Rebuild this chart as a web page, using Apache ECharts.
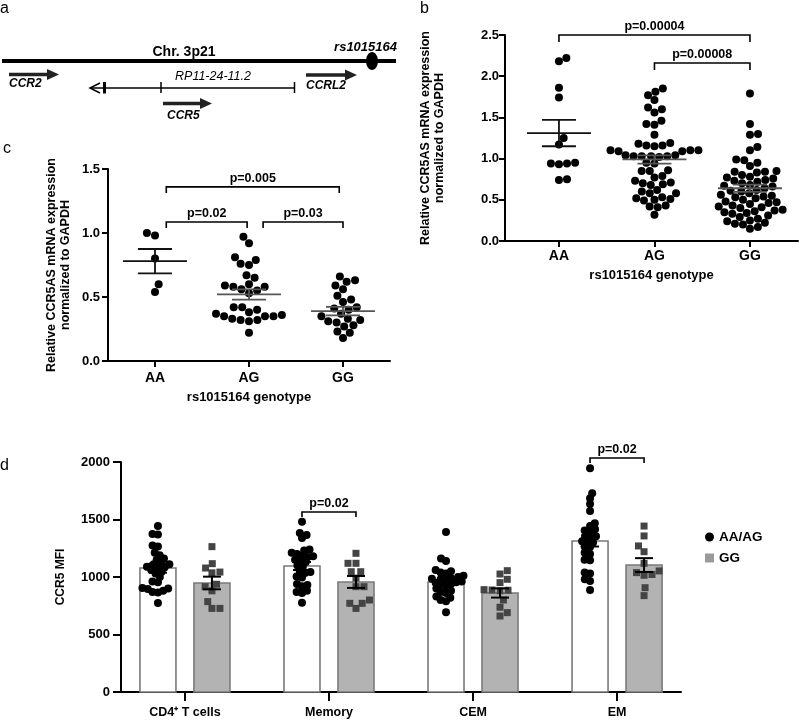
<!DOCTYPE html>
<html><head><meta charset="utf-8">
<script src="https://cdn.jsdelivr.net/npm/echarts@6/dist/echarts.min.js"></script>
<style>html,body{margin:0;padding:0;background:#fff}#c{width:800px;height:720px}</style>
</head><body><div id="c"></div>
<script>
// ================= DATA =================
const genotypes = ['AA', 'AG', 'GG'];
// panel b
const bAA = [2.22, 2.18, 1.86, 1.74, 1.25, 1.17, 0.95, 0.94, 0.93, 0.94, 0.74, 0.75];
const bAG = [1.85, 1.81, 1.77, 1.71, 1.62, 1.60, 1.56, 1.46, 1.42, 1.41, 1.29, 1.19, 1.18, 1.16, 1.16, 1.15,
  1.10, 1.10, 1.09, 1.10, 1.09, 1.04, 1.03, 1.03, 1.02, 1.03, 1.03, 1.04, 0.95, 0.94, 0.86, 0.85, 0.85,
  0.79, 0.77, 0.73, 0.71, 0.70, 0.69, 0.68, 0.62, 0.60, 0.58, 0.58, 0.53, 0.52, 0.51, 0.50, 0.49,
  0.43, 0.42, 0.41, 0.32];
const bGG = [1.79, 1.42, 1.30, 1.29, 1.14, 1.10, 0.99, 0.98, 0.95, 0.91, 0.85, 0.84, 0.84, 0.83, 0.80,
  0.78, 0.77, 0.76, 0.74, 0.73, 0.72, 0.70, 0.68, 0.67, 0.66, 0.64, 0.62, 0.61, 0.60, 0.58,
  0.56, 0.55, 0.54, 0.53, 0.52, 0.50, 0.48, 0.47, 0.46, 0.45, 0.43, 0.42, 0.41, 0.40, 0.38,
  0.37, 0.36, 0.35, 0.34, 0.33, 0.31, 0.29, 0.27, 0.25, 0.24, 0.22, 0.21, 0.20, 0.17, 0.15];
const bMean = [1.31, 0.99, 0.64];
const bSem = [0.16, 0.05, 0.045];
const bPvals = ['p=0.00004', 'p=0.00008'];
// panel c
const cAA = [1.00, 0.98, 0.80, 0.60, 0.54];
const cAG = [0.97, 0.92, 0.81, 0.79, 0.76, 0.75, 0.67, 0.65, 0.60, 0.59, 0.58, 0.58, 0.56, 0.55, 0.53,
  0.42, 0.42, 0.40, 0.38, 0.37, 0.36, 0.35, 0.35, 0.35, 0.33, 0.32, 0.32, 0.31, 0.22];
const cGG = [0.66, 0.63, 0.62, 0.59, 0.56, 0.51, 0.48, 0.46, 0.42, 0.41, 0.40, 0.37, 0.35, 0.33, 0.32,
  0.31, 0.30, 0.28, 0.27, 0.23, 0.22, 0.18];
const cMean = [0.78, 0.52, 0.39];
const cSem = [0.095, 0.04, 0.033];
const cPvals = ['p=0.005', 'p=0.02', 'p=0.03'];
// panel d
const cellTypes = ['CD4\u207A T cells', 'Memory', 'CEM', 'EM'];
const dAA_CD4 = [1443, 1375, 1370, 1275, 1265, 1210, 1190, 1160, 1150, 1120, 1110, 1110, 1090, 1080, 1085, 1060,
  1045, 1030, 1000, 960, 955, 905, 900, 895, 880, 870, 865, 775];
const dAA_Mem = [1481, 1383, 1365, 1339, 1240, 1230, 1210, 1200, 1185, 1180, 1175, 1150, 1140, 1130, 1100, 1090,
  1050, 1043, 1035, 1005, 995, 940, 930, 920, 880, 870, 860, 777];
const dAA_CEM = [1391, 1160, 1140, 1060, 1050, 1040, 1030, 1010, 1000, 990, 985, 980, 970, 960, 955, 950,
  940, 930, 920, 900, 880, 870, 860, 830, 820, 800, 790, 693];
const dAA_EM = [1945, 1728, 1684, 1635, 1574, 1467, 1443, 1415, 1405, 1395, 1355, 1350, 1345, 1310, 1305, 1300,
  1265, 1260, 1210, 1200, 1150, 1145, 1040, 1030, 980, 965, 887];
const dGG_CD4 = [1264, 1116, 1078, 1043, 1036, 937, 916, 880, 786, 727, 727];
const dGG_Mem = [1206, 1119, 1119, 1046, 1046, 990, 916, 916, 800, 771, 771, 727];
const dGG_CEM = [1055, 1026, 980, 951, 890, 887, 885, 880, 800, 737, 690, 661];
const dGG_EM = [1443, 1357, 1270, 1220, 1119, 1053, 1038, 1022, 1015, 907, 838];
const dMeanAAAG = [1078, 1096, 957, 1313];
const dSemAAAG = [40, 35, 25, 48];
const dMeanGG = [948, 957, 861, 1104];
const dSemGG = [55, 52, 40, 60];
const dPvals = ['p=0.02', 'p=0.02'];

// ================= LAYOUT =================
const FF = '"Liberation Sans", Arial, sans-serif';
const gB = {left: 505, top: 35, width: 293, height: 206, xmin: -0.565, xmax: 2.503, ymax: 2.5};
const gC = {left: 108, top: 169, width: 282, height: 192, xmin: -0.5, xmax: 2.5, ymax: 1.5};
const gD = {left: 121, top: 462, width: 560, height: 230, xmin: -0.444, xmax: 3.444, ymax: 2000};
function pxX(g) { return g.width / (g.xmax - g.xmin); }
function pxY(g) { return g.height / g.ymax; }

// beeswarm offsets (px) computed from values – deterministic, no randomness
function swarm(vals, g, D) {
  const py = pxY(g);
  const ys = vals.map(v => -v * py);
  const order = ys.map((y, i) => i).sort((a, b) => ys[b] - ys[a]);
  const placed = [], out = new Array(vals.length);
  let flip = 1;
  order.forEach(i => {
    const y = ys[i];
    const near = placed.filter(p => Math.abs(p.y - y) < D);
    const cands = [0];
    near.forEach(p => { const dx = Math.sqrt(D * D - (p.y - y) * (p.y - y)); cands.push(p.x + dx, p.x - dx); });
    cands.sort((a, b) => (Math.abs(a) - Math.abs(b)) || (flip * (a - b)));
    const x = cands.find(c => near.every(p => (p.x - c) * (p.x - c) + (p.y - y) * (p.y - y) >= D * D - 1e-6));
    flip = -flip;
    placed.push({x, y}); out[i] = x;
  });
  return out;
}
function swarmData(groups, g, D, groupOffsetPx) {
  const res = [];
  groups.forEach((vals, ci) => {
    const off = swarm(vals, g, D);
    vals.forEach((v, k) => res.push([ci + (off[k] + (groupOffsetPx || 0)) / pxX(g), v]));
  });
  return res;
}

const axisLineStyle = {color: '#000', width: 2};
function xAxisCfg(idx, g, names, tickLen, labelSize, labelMargin, nameTxt, nameGap) {
  const vals = names.map((n, i) => i);
  return {
    gridIndex: idx, type: 'value', min: g.xmin, max: g.xmax,
    axisLine: {show: true, onZero: false, lineStyle: axisLineStyle},
    axisTick: {show: true, customValues: vals, length: tickLen, lineStyle: axisLineStyle},
    axisLabel: {customValues: vals, formatter: v => names[Math.round(v)], color: '#000', fontFamily: FF,
      fontWeight: 'bold', fontSize: labelSize, margin: labelMargin},
    splitLine: {show: false},
    name: nameTxt || '', nameLocation: 'middle', nameGap: nameGap || 0,
    nameTextStyle: {color: '#000', fontFamily: FF, fontWeight: 'bold', fontSize: 13}
  };
}
function yAxisCfg(idx, g, interval, fmt, tickLen, labelSize, labelMargin, nameTxt, nameGap, nameSize) {
  return {
    gridIndex: idx, type: 'value', min: 0, max: g.ymax, interval: interval,
    axisLine: {show: true, onZero: false, lineStyle: axisLineStyle},
    axisTick: {show: true, length: tickLen, lineStyle: axisLineStyle},
    axisLabel: {formatter: fmt, color: '#000', fontFamily: FF, fontWeight: 'bold', fontSize: labelSize, margin: labelMargin},
    splitLine: {show: false},
    name: nameTxt, nameLocation: 'middle', nameGap: nameGap,
    nameTextStyle: {color: '#000', fontFamily: FF, fontWeight: 'bold', fontSize: nameSize, lineHeight: 14}
  };
}

function meanSemRender(halfMean, halfCap) {
  return function (params, api) {
    const x = api.value(0), m = api.value(1), s = api.value(2);
    const pm = api.coord([x, m]), ph = api.coord([x, m + s]), pl = api.coord([x, m - s]);
    const col = params.dataIndex === 0 ? '#111' : '#555';
    const st = {stroke: col, lineWidth: 1.8};
    return {type: 'group', children: [
      {type: 'line', shape: {x1: pm[0] - halfMean, y1: pm[1], x2: pm[0] + halfMean, y2: pm[1]}, style: st},
      {type: 'line', shape: {x1: pm[0], y1: ph[1], x2: pm[0], y2: pl[1]}, style: st},
      {type: 'line', shape: {x1: pm[0] - halfCap, y1: ph[1], x2: pm[0] + halfCap, y2: ph[1]}, style: st},
      {type: 'line', shape: {x1: pm[0] - halfCap, y1: pl[1], x2: pm[0] + halfCap, y2: pl[1]}, style: st}
    ]};
  };
}
function errRender(offPx, halfCap) {
  return function (params, api) {
    const x = api.value(0), m = api.value(1), s = api.value(2);
    const ph = api.coord([x, m + s]), pl = api.coord([x, m - s]);
    const cx = ph[0] + offPx;
    const st = {stroke: '#000', lineWidth: 2};
    return {type: 'group', children: [
      {type: 'line', shape: {x1: cx, y1: ph[1], x2: cx, y2: pl[1]}, style: st},
      {type: 'line', shape: {x1: cx - halfCap, y1: ph[1], x2: cx + halfCap, y2: ph[1]}, style: st},
      {type: 'line', shape: {x1: cx - halfCap, y1: pl[1], x2: cx + halfCap, y2: pl[1]}, style: st}
    ]};
  };
}
function barRender(offPx, w, fill) {
  return function (params, api) {
    const x = api.value(0), m = api.value(1);
    const p0 = api.coord([x, 0]), p1 = api.coord([x, m]);
    return {type: 'rect', shape: {x: p0[0] + offPx - w / 2, y: p1[1], width: w, height: p0[1] - p1[1]},
      style: {fill: fill, stroke: '#7a7a7a', lineWidth: 1.6}};
  };
}
function bracketRender(labels, drop, fs) {
  return function (params, api) {
    const x1 = api.value(0), x2 = api.value(1), y = api.value(2);
    const p1 = api.coord([x1, y]), p2 = api.coord([x2, y]);
    return {type: 'group', children: [
      {type: 'polyline', shape: {points: [[p1[0], p1[1] + drop], [p1[0], p1[1]], [p2[0], p2[1]], [p2[0], p2[1] + drop]]},
        style: {stroke: '#000', lineWidth: 1.6, fill: null}},
      {type: 'text', x: (p1[0] + p2[0]) / 2, y: p1[1] - 2,
        style: {text: labels[params.dataIndex], fill: '#000', font: 'bold ' + fs + 'px ' + FF, align: 'center', verticalAlign: 'bottom'}}
    ]};
  };
}

// annotation anchors (data coordinates)
const bBrackets = [[0, 2, 2.5], [1, 2, 2.16]];
const cBrackets = [[0.12, 1.96, 1.36], [0.12, 0.98, 1.086], [1.15, 2.0, 1.086]];
const dGroupOff = 27 / pxX(gD);
const dBrackets = [[1 - dGroupOff, 1 + dGroupOff, 1565], [3 - dGroupOff, 3 + dGroupOff, 2035]];

const ital = 'italic bold 12px ' + FF;
const graphics = [
  {type: 'text', x: 0, y: 9, style: {text: 'a', font: '16px ' + FF, fill: '#000', verticalAlign: 'middle'}},
  {type: 'text', x: 420, y: 9, style: {text: 'b', font: '16px ' + FF, fill: '#000', verticalAlign: 'middle'}},
  {type: 'text', x: 3, y: 149, style: {text: 'c', font: '16px ' + FF, fill: '#000', verticalAlign: 'middle'}},
  {type: 'text', x: 0, y: 466, style: {text: 'd', font: '16px ' + FF, fill: '#000', verticalAlign: 'middle'}},
  // panel a schematic
  {type: 'rect', shape: {x: 2, y: 59, width: 394, height: 4}, style: {fill: '#000'}},
  {type: 'ellipse', shape: {cx: 372, cy: 61, rx: 6, ry: 9}, style: {fill: '#000'}},
  {type: 'text', x: 184, y: 52, style: {text: 'Chr. 3p21', font: 'bold 14px ' + FF, fill: '#000', align: 'center', verticalAlign: 'middle'}},
  {type: 'text', x: 397, y: 47, style: {text: 'rs1015164', font: 'italic bold 13px ' + FF, fill: '#000', align: 'right', verticalAlign: 'middle'}},
  // CCR2
  {type: 'rect', shape: {x: 9, y: 72.8, width: 39, height: 3.4}, style: {fill: '#222'}},
  {type: 'polygon', shape: {points: [[47, 69], [59, 74.5], [47, 80]]}, style: {fill: '#222'}},
  {type: 'text', x: 9, y: 84, style: {text: 'CCR2', font: ital, fill: '#000', verticalAlign: 'middle'}},
  // CCRL2
  {type: 'rect', shape: {x: 306, y: 73.3, width: 40, height: 3.4}, style: {fill: '#222'}},
  {type: 'polygon', shape: {points: [[345, 69.5], [357, 75], [345, 80.5]]}, style: {fill: '#222'}},
  {type: 'text', x: 306, y: 86, style: {text: 'CCRL2', font: ital, fill: '#000', verticalAlign: 'middle'}},
  // CCR5
  {type: 'rect', shape: {x: 163, y: 101.8, width: 38, height: 3.4}, style: {fill: '#222'}},
  {type: 'polygon', shape: {points: [[200, 98], [212, 103.5], [200, 109]]}, style: {fill: '#222'}},
  {type: 'text', x: 167, y: 116, style: {text: 'CCR5', font: ital, fill: '#000', verticalAlign: 'middle'}},
  // RP11-24-11.2 transcript
  {type: 'line', shape: {x1: 90, y1: 88, x2: 295, y2: 88}, style: {stroke: '#000', lineWidth: 1.5}},
  {type: 'polyline', shape: {points: [[100, 83], [90, 88], [100, 93]]}, style: {stroke: '#000', lineWidth: 1.5, fill: null}},
  {type: 'rect', shape: {x: 103, y: 82, width: 3, height: 11.5}, style: {fill: '#000'}},
  {type: 'line', shape: {x1: 161, y1: 82, x2: 161, y2: 93}, style: {stroke: '#000', lineWidth: 1.5}},
  {type: 'line', shape: {x1: 294.5, y1: 82, x2: 294.5, y2: 93}, style: {stroke: '#000', lineWidth: 1.5}},
  {type: 'text', x: 213, y: 77, style: {text: 'RP11-24-11.2', font: 'italic 12.5px ' + FF, fill: '#000', align: 'center', verticalAlign: 'middle'}}
];

const option = {
  animation: false,
  backgroundColor: '#fff',
  textStyle: {fontFamily: FF},
  grid: [
    {left: gB.left, top: gB.top, width: gB.width, height: gB.height},
    {left: gC.left, top: gC.top, width: gC.width, height: gC.height},
    {left: gD.left, top: gD.top, width: gD.width, height: gD.height}
  ],
  xAxis: [
    xAxisCfg(0, gB, genotypes, 6, 14, 8, 'rs1015164 genotype', 28),
    xAxisCfg(1, gC, genotypes, 6, 14, 10, 'rs1015164 genotype', 30),
    xAxisCfg(2, gD, cellTypes, 9, 12.5, 14, '', 0)
  ],
  yAxis: [
    yAxisCfg(0, gB, 0.5, v => v.toFixed(1), 6, 13, 6, 'Relative CCR5AS mRNA expression\nnormalized to GAPDH', 58, 12.5),
    yAxisCfg(1, gC, 0.5, v => v.toFixed(1), 6, 13, 8, 'Relative CCR5AS mRNA expression\nnormalized to GAPDH', 35, 12.5),
    yAxisCfg(2, gD, 500, v => String(v), 8, 13, 11, 'CCR5 MFI', 53, 12)
  ],
  legend: {
    orient: 'vertical', left: 705, top: 530, padding: 0, itemWidth: 9, itemHeight: 9, itemGap: 7,
    selectedMode: false,
    textStyle: {fontFamily: FF, fontWeight: 'bold', fontSize: 13.5, color: '#000'},
    data: [
      {name: 'AA/AG', icon: 'circle', itemStyle: {color: '#000', opacity: 1}},
      {name: 'GG', icon: 'rect', itemStyle: {color: '#9a9a9a', opacity: 1}}
    ]
  },
  graphic: graphics,
  series: [
    // panel b
    {name: 'b points', type: 'scatter', xAxisIndex: 0, yAxisIndex: 0, symbol: 'circle', symbolSize: 8,
      itemStyle: {color: '#000', opacity: 1}, z: 2, data: swarmData([bAA, bAG, bGG], gB, 8.1)},
    {name: 'b mean', type: 'custom', xAxisIndex: 0, yAxisIndex: 0, z: 3,
      renderItem: meanSemRender(32, 17), data: bMean.map((m, i) => [i, m, bSem[i]])},
    {name: 'b brackets', type: 'custom', xAxisIndex: 0, yAxisIndex: 0, z: 3, encode: {x: [0, 1], y: 2},
      renderItem: bracketRender(bPvals, 7, 12.5), data: bBrackets},
    // panel c
    {name: 'c points', type: 'scatter', xAxisIndex: 1, yAxisIndex: 1, symbol: 'circle', symbolSize: 8,
      itemStyle: {color: '#000', opacity: 1}, z: 2, data: swarmData([cAA, cAG, cGG], gC, 8.5)},
    {name: 'c mean', type: 'custom', xAxisIndex: 1, yAxisIndex: 1, z: 3,
      renderItem: meanSemRender(32, 17), data: cMean.map((m, i) => [i, m, cSem[i]])},
    {name: 'c brackets', type: 'custom', xAxisIndex: 1, yAxisIndex: 1, z: 3, encode: {x: [0, 1], y: 2},
      renderItem: bracketRender(cPvals, 6, 12.5), data: cBrackets},
    // panel d bars
    {name: 'AA/AG bars', type: 'custom', xAxisIndex: 2, yAxisIndex: 2, z: 1,
      renderItem: barRender(-27, 36, '#ffffff'), data: dMeanAAAG.map((m, i) => [i, m])},
    {name: 'GG bars', type: 'custom', xAxisIndex: 2, yAxisIndex: 2, z: 1,
      renderItem: barRender(27, 36, '#b3b3b3'), data: dMeanGG.map((m, i) => [i, m])},
    {name: 'AA/AG', type: 'scatter', xAxisIndex: 2, yAxisIndex: 2, symbol: 'circle', symbolSize: 8,
      itemStyle: {color: '#000', opacity: 1}, z: 2,
      data: swarmData([dAA_CD4, dAA_Mem, dAA_CEM, dAA_EM], gD, 5.5, -27)},
    {name: 'GG', type: 'scatter', xAxisIndex: 2, yAxisIndex: 2, symbol: 'rect', symbolSize: 7,
      itemStyle: {color: '#444', opacity: 1}, z: 2,
      data: swarmData([dGG_CD4, dGG_Mem, dGG_CEM, dGG_EM], gD, 8, 27)},
    {name: 'AA/AG err', type: 'custom', xAxisIndex: 2, yAxisIndex: 2, z: 3,
      renderItem: errRender(-27, 9), data: dMeanAAAG.map((m, i) => [i, m, dSemAAAG[i]])},
    {name: 'GG err', type: 'custom', xAxisIndex: 2, yAxisIndex: 2, z: 3,
      renderItem: errRender(27, 9), data: dMeanGG.map((m, i) => [i, m, dSemGG[i]])},
    {name: 'd brackets', type: 'custom', xAxisIndex: 2, yAxisIndex: 2, z: 3, encode: {x: [0, 1], y: 2},
      renderItem: bracketRender(dPvals, 5, 12.5), data: dBrackets}
  ]
};
const chart = echarts.init(document.getElementById('c'), null, {renderer: 'canvas', width: 800, height: 720});
chart.setOption(option);
</script></body></html>
